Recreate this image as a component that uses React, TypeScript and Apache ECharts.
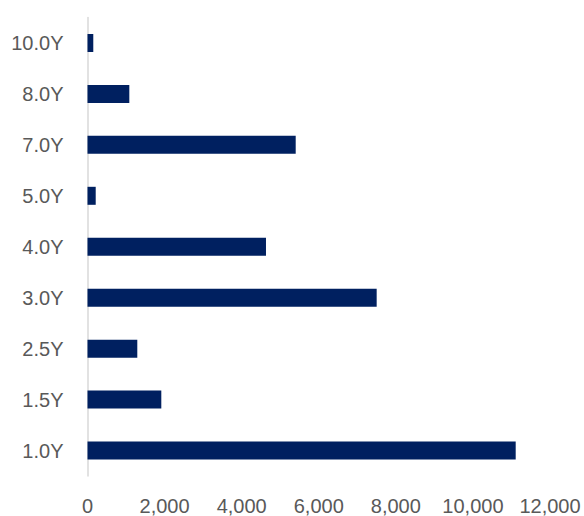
import React, { useEffect, useRef } from "react";
import * as echarts from "echarts";

const categories = ["1.0Y", "1.5Y", "2.5Y", "3.0Y", "4.0Y", "5.0Y", "7.0Y", "8.0Y", "10.0Y"];
const values = [11110, 1915, 1292, 7503, 4631, 213, 5402, 1085, 150];
const xTicks = { min: 0, max: 12000, interval: 2000 };

export default function App() {
  const ref = useRef<HTMLDivElement>(null);
  useEffect(() => {
    if (!ref.current) return;
    const chart = echarts.init(ref.current, undefined, { renderer: "svg" });
    chart.setOption({
      animation: false,
      backgroundColor: "#ffffff",
      grid: { left: 87.5, right: 34, top: 17.5, bottom: 39.5, containLabel: false },
      xAxis: {
        type: "value",
        min: xTicks.min,
        max: xTicks.max,
        interval: xTicks.interval,
        axisLine: { show: false },
        axisTick: { show: false },
        splitLine: { show: false },
        axisLabel: {
          margin: 20,
          color: "#595959",
          fontFamily: "Liberation Sans",
          fontSize: 20,
          formatter: (v: number) => v.toLocaleString("en-US"),
        },
      },
      yAxis: {
        type: "category",
        data: categories,
        axisLine: { show: true, lineStyle: { color: "#d9d9d9", width: 1.5 } },
        axisTick: { show: false },
        axisLabel: {
          margin: 24,
          color: "#595959",
          fontFamily: "Liberation Sans",
          fontSize: 20,
        },
      },
      series: [
        {
          type: "bar",
          data: values,
          barWidth: 18,
          itemStyle: { color: "#002060" },
        },
      ],
    });
    return () => chart.dispose();
  }, []);
  return (
    <div
      ref={ref}
      style={{ position: "fixed", left: 0, top: 0, width: 584, height: 516 }}
    />
  );
}
